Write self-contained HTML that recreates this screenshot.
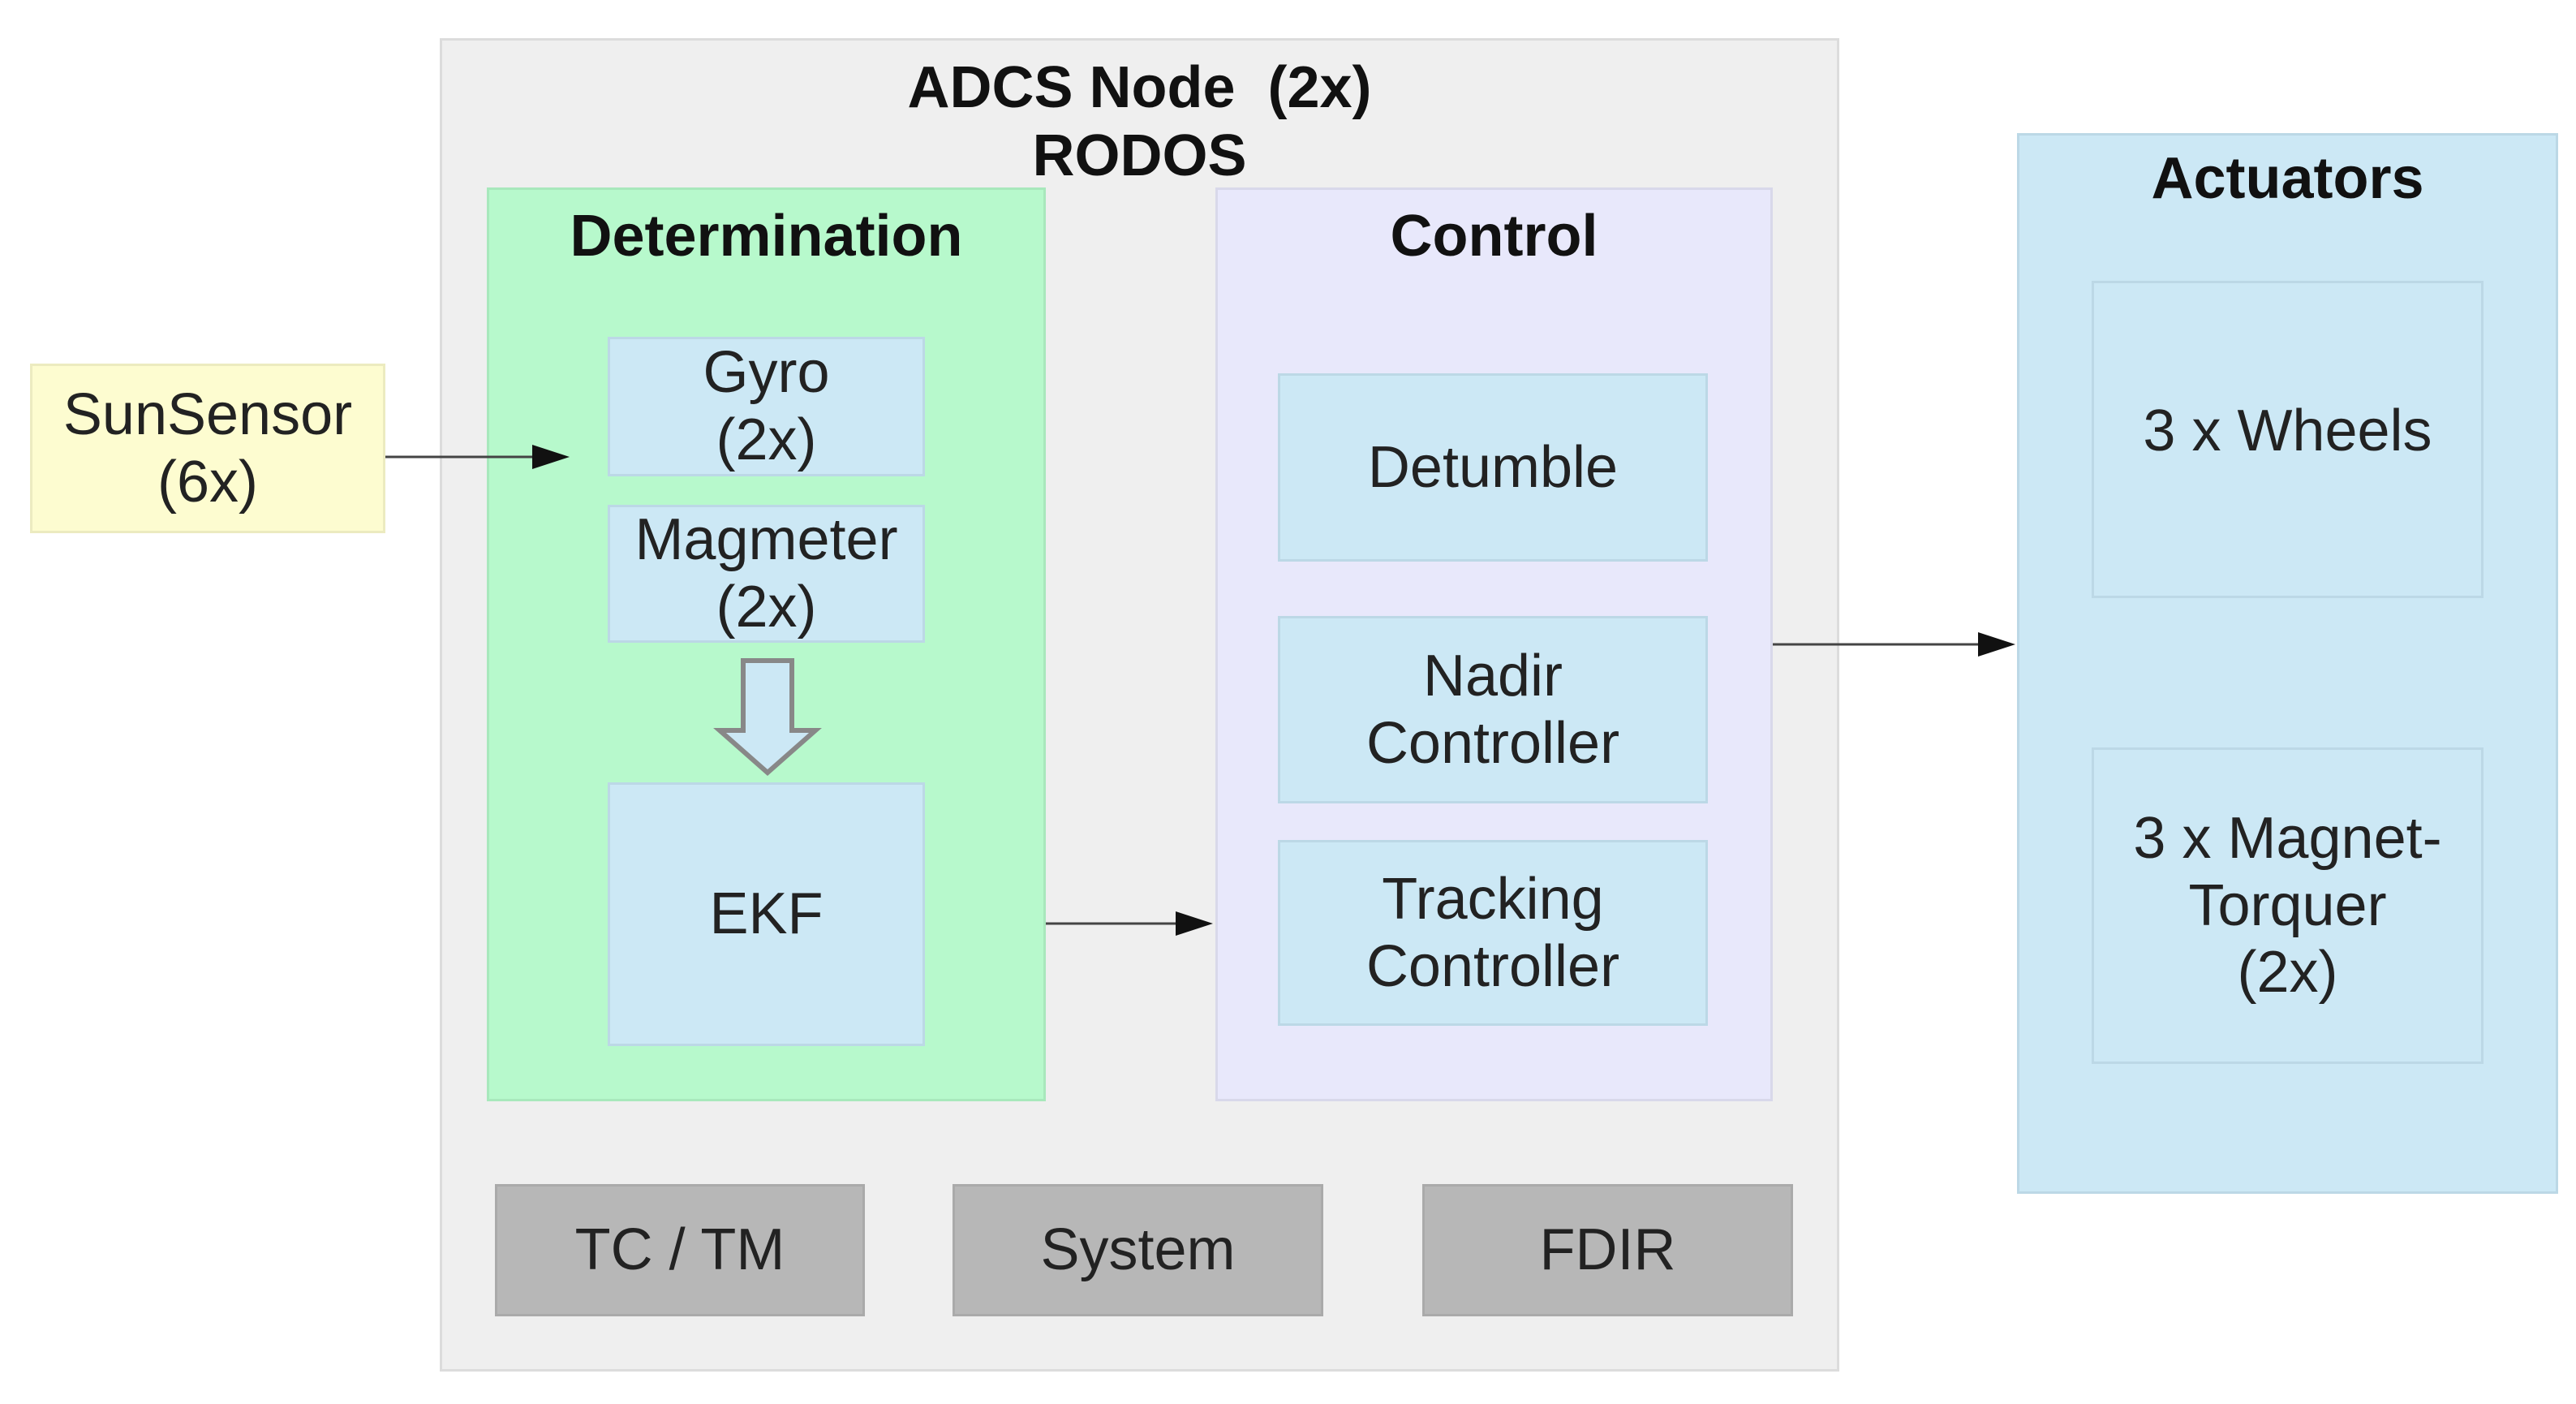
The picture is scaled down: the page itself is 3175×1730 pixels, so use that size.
<!DOCTYPE html>
<html><head><meta charset="utf-8"><style>
body{margin:0;width:3175px;height:1730px;background:#fff;position:relative;overflow:hidden;font-family:"Liberation Sans",Arial,sans-serif;color:#222}
.b{position:absolute;box-sizing:border-box;display:flex;align-items:center;justify-content:center;text-align:center;font-size:72px;line-height:1.15}
.t{position:absolute;left:0;right:0;text-align:center;font-weight:bold;font-size:72px;color:#111}
.lb{background:#cce8f5;border:3px solid #bcd8e6}
.gr{background:#b7b7b7;border:3px solid #aaa}
</style></head><body>
<div class="b" style="left:542px;top:47px;width:1725px;height:1643px;background:#efefef;border:3px solid #dcdcdc;display:block">
 <div class="t" style="top:16px;line-height:84px">ADCS Node&nbsp; (2x)<br>RODOS</div>
</div>
<div class="b" style="left:600px;top:231px;width:689px;height:1126px;background:#b7f9cc;border:3px solid #a8e8bc;display:block"><div class="t" style="top:16px">Determination</div></div>
<div class="b" style="left:1498px;top:231px;width:687px;height:1126px;background:#e8e8fb;border:3px solid #d8d8ea;display:block"><div class="t" style="top:16px">Control</div></div>
<div class="b" style="left:2486px;top:164px;width:667px;height:1307px;background:#cce8f5;border:3px solid #bcd8e6;display:block"><div class="t" style="top:12px">Actuators</div></div>

<div class="b" style="left:37px;top:448px;width:438px;height:209px;background:#fdfcd0;border:3px solid #ecebc0">SunSensor<br>(6x)</div>
<div class="b lb" style="left:749px;top:415px;width:391px;height:172px">Gyro<br>(2x)</div>
<div class="b lb" style="left:749px;top:622px;width:391px;height:170px">Magmeter<br>(2x)</div>
<div class="b lb" style="left:749px;top:964px;width:391px;height:325px">EKF</div>
<div class="b lb" style="left:1575px;top:460px;width:530px;height:232px">Detumble</div>
<div class="b lb" style="left:1575px;top:759px;width:530px;height:231px">Nadir<br>Controller</div>
<div class="b lb" style="left:1575px;top:1035px;width:530px;height:229px">Tracking<br>Controller</div>
<div class="b lb" style="left:2578px;top:346px;width:483px;height:391px;padding-bottom:20px">3 x Wheels</div>
<div class="b lb" style="left:2578px;top:921px;width:483px;height:390px">3 x Magnet-<br>Torquer<br>(2x)</div>
<div class="b gr" style="left:610px;top:1459px;width:456px;height:163px">TC / TM</div>
<div class="b gr" style="left:1174px;top:1459px;width:457px;height:163px">System</div>
<div class="b gr" style="left:1753px;top:1459px;width:457px;height:163px">FDIR</div>

<svg width="3175" height="1730" style="position:absolute;left:0;top:0">
 <g stroke="#444" stroke-width="3" fill="#111">
  <line x1="475" y1="563" x2="670" y2="563"/><polygon points="702,563 656,548 656,578" stroke="none"/>
  <line x1="1289" y1="1138" x2="1462" y2="1138"/><polygon points="1495,1138 1449,1123 1449,1153" stroke="none"/>
  <line x1="2185" y1="794" x2="2452" y2="794"/><polygon points="2484,794 2438,779 2438,809" stroke="none"/>
 </g>
 <polygon points="916,814 976,814 976,900 1005,900 946,952 887,900 916,900" fill="#cce8f5" stroke="#888" stroke-width="6"/>
</svg>
</body></html>
